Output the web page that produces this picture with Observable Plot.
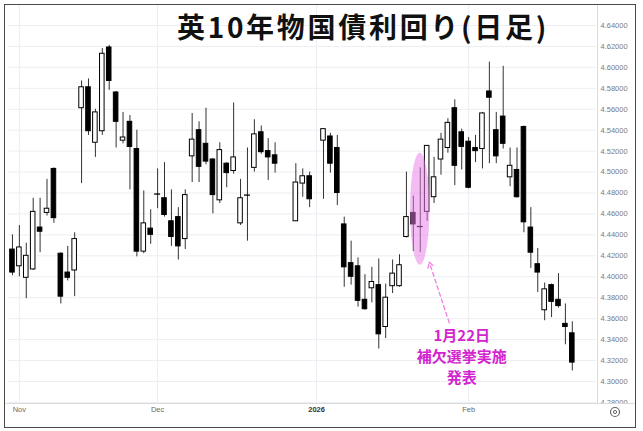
<!DOCTYPE html>
<html><head><meta charset="utf-8">
<script src="https://cdn.jsdelivr.net/npm/d3@7"></script>
<script src="https://cdn.jsdelivr.net/npm/@observablehq/plot@0.6"></script>
<style>
body{margin:0;background:#fff;}
#wrap{position:relative;width:643px;height:431px;overflow:hidden;background:#fff;}
#wrap svg{position:absolute;left:0;top:0;}
.ov{position:absolute;pointer-events:none;}
#border{left:4px;top:4px;width:632px;height:424px;border:1.5px solid #4a4a4a;box-sizing:border-box;}
#vsep{left:597px;top:5px;width:1px;height:398px;background:#dadada;}
#hsep{left:5px;top:403px;width:631px;height:1px;background:#dadada;}
#corner{left:598px;top:404px;width:37px;height:23px;background:#fff;}
#title{left:0;width:726px;top:9px;text-align:center;font:bold 28px/34px "Noto Sans CJK JP",sans-serif;color:#111;letter-spacing:2.7px;}
</style></head>
<body>
<div id="wrap">
  <div id="chart"></div>
  <div class="ov" id="title">英10年物国債利回り(日足)</div>
  <div class="ov" id="vsep"></div>
  <div class="ov" id="hsep"></div>
  <div class="ov" id="corner"><svg width="37" height="23"><circle cx="17" cy="8" r="4.5" fill="none" stroke="#666" stroke-width="1.2"/><circle cx="17" cy="8" r="1.6" fill="none" stroke="#666" stroke-width="1"/></svg></div>
  <div class="ov" id="border"></div>
</div>
<script>
// ---- data ----
const dates = ["2025-10-31","2025-11-03","2025-11-04","2025-11-05","2025-11-06","2025-11-07","2025-11-10","2025-11-11","2025-11-12","2025-11-13","2025-11-14","2025-11-17","2025-11-18","2025-11-19","2025-11-20","2025-11-21","2025-11-24","2025-11-25","2025-11-26","2025-11-27","2025-11-28","2025-12-01","2025-12-02","2025-12-03","2025-12-04","2025-12-05","2025-12-08","2025-12-09","2025-12-10","2025-12-11","2025-12-12","2025-12-15","2025-12-16","2025-12-17","2025-12-18","2025-12-19","2025-12-22","2025-12-23","2025-12-24","2025-12-29","2025-12-30","2025-12-31","2026-01-02","2026-01-05","2026-01-06","2026-01-07","2026-01-08","2026-01-09","2026-01-12","2026-01-13","2026-01-14","2026-01-15","2026-01-16","2026-01-19","2026-01-20","2026-01-21","2026-01-22","2026-01-23","2026-01-26","2026-01-27","2026-01-28","2026-01-29","2026-01-30","2026-02-02","2026-02-03","2026-02-04","2026-02-05","2026-02-06","2026-02-09","2026-02-10","2026-02-11","2026-02-12","2026-02-13","2026-02-16","2026-02-17","2026-02-18","2026-02-19","2026-02-20","2026-02-23"];
const open  = [4.426,4.410,4.399,4.407,4.447,4.461,4.503,4.422,4.404,4.406,4.561,4.581,4.528,4.539,4.619,4.576,4.530,4.548,4.522,4.424,4.446,4.479,4.475,4.453,4.457,4.436,4.515,4.540,4.527,4.512,4.473,4.508,4.501,4.451,4.478,4.504,4.538,4.520,4.516,4.453,4.489,4.496,4.530,4.534,4.523,4.450,4.413,4.410,4.378,4.389,4.392,4.352,4.391,4.391,4.438,4.461,4.448,4.462,4.476,4.512,4.523,4.561,4.538,4.529,4.523,4.522,4.577,4.540,4.553,4.495,4.502,4.543,4.447,4.412,4.368,4.392,4.378,4.355,4.346];
const high  = [4.440,4.449,4.432,4.475,4.475,4.493,4.504,4.423,4.429,4.442,4.587,4.589,4.560,4.618,4.621,4.577,4.557,4.554,4.540,4.482,4.464,4.503,4.509,4.483,4.466,4.483,4.556,4.548,4.561,4.513,4.528,4.509,4.566,4.493,4.523,4.550,4.544,4.532,4.528,4.508,4.503,4.500,4.541,4.537,4.535,4.457,4.434,4.418,4.402,4.409,4.417,4.393,4.416,4.421,4.500,4.477,4.504,4.525,4.514,4.537,4.551,4.569,4.541,4.533,4.535,4.557,4.605,4.557,4.601,4.523,4.523,4.544,4.466,4.427,4.394,4.393,4.403,4.374,4.357];
const low   = [4.401,4.400,4.379,4.406,4.423,4.458,4.451,4.374,4.396,4.381,4.489,4.535,4.514,4.535,4.578,4.523,4.527,4.483,4.419,4.422,4.431,4.465,4.457,4.429,4.416,4.426,4.490,4.490,4.507,4.460,4.470,4.485,4.498,4.449,4.434,4.500,4.517,4.492,4.499,4.453,4.476,4.466,4.474,4.499,4.468,4.390,4.392,4.371,4.368,4.375,4.331,4.341,4.384,4.390,4.437,4.424,4.423,4.453,4.470,4.497,4.518,4.487,4.502,4.484,4.509,4.503,4.508,4.508,4.522,4.486,4.475,4.442,4.408,4.385,4.358,4.361,4.370,4.335,4.310];
const close = [4.404,4.428,4.420,4.462,4.443,4.465,4.456,4.381,4.399,4.436,4.581,4.539,4.557,4.613,4.587,4.548,4.533,4.524,4.424,4.451,4.440,4.479,4.459,4.438,4.429,4.478,4.531,4.505,4.510,4.478,4.521,4.499,4.514,4.475,4.478,4.536,4.519,4.514,4.508,4.490,4.496,4.474,4.541,4.508,4.480,4.409,4.400,4.377,4.369,4.395,4.345,4.380,4.403,4.411,4.457,4.450,4.448,4.525,4.495,4.531,4.547,4.506,4.524,4.485,4.520,4.556,4.571,4.515,4.527,4.506,4.476,4.452,4.423,4.404,4.388,4.376,4.372,4.352,4.318];

const yTicks = [4.28,4.30,4.32,4.34,4.36,4.38,4.40,4.42,4.44,4.46,4.48,4.50,4.52,4.54,4.56,4.58,4.60,4.62,4.64];
const xTickDates  = ["2025-11-03","2025-12-01","2026-01-01","2026-02-02"];
const xTickLabels = ["Nov","Dec","2026","Feb"];

const noteDate = "2026-01-22";
const noteText = "1月22日\n補欠選挙実施\n発表";
const noteRange = [4.411, 4.518];      // highlighted span on Jan 22
const noteArrow = {from: [4.2, 4.356], to: [1.3, 4.414]}; // [slot offset, yield]
const noteLabel = [6.0, 4.325];

// ---- build ----
const fmt = d3.utcFormat("%Y-%m-%d");
const slots = d3.utcDay.range(new Date(Date.UTC(2025,9,31)), new Date(Date.UTC(2026,1,27)))
  .filter(d => d.getUTCDay() !== 0 && d.getUTCDay() !== 6).map(fmt);
const idx = new Map(slots.map((s, i) => [s, i]));
const candles = dates.map((d, k) => ({i: idx.get(d), o: open[k], h: high[k], l: low[k], c: close[k]}));
const bodies = candles.filter(d => d.o !== d.c);
const dojis = candles.filter(d => d.o === d.c);
const tickIdx = xTickDates.map(d => idx.get(d));
const tickLab = new Map(tickIdx.map((t, k) => [t, xTickLabels[k]]));
const ni = idx.get(noteDate);
const note = [{ni}];
const hw = 0.33;

const chart = Plot.plot({
  width: 643, height: 431,
  marginLeft: 8.5, marginRight: 47, marginTop: 5, marginBottom: 29,
  style: {fontFamily: "'Liberation Sans', sans-serif", fontSize: "7.5px", background: "transparent", color: "#777"},
  x: {type: "linear", domain: [-0.5, slots.length - 0.5], axis: null},
  y: {type: "linear", domain: [4.2799, 4.6591], axis: null},
  marks: [
    Plot.gridY(yTicks, {stroke: "#eceef3", strokeOpacity: 1}),
    Plot.gridX(tickIdx, {stroke: "#eceef3", strokeOpacity: 1}),
    Plot.ruleX(candles, {x: "i", y1: "l", y2: "h", stroke: "#333", strokeWidth: 1}),
    Plot.rect(bodies, {x1: d => d.i - hw, x2: d => d.i + hw, y1: "o", y2: "c",
      fill: d => d.c >= d.o ? "#fff" : "#000", stroke: "#000", strokeWidth: 1}),
    Plot.ruleY(dojis, {y: "o", x1: d => d.i - hw - 0.1, x2: d => d.i + hw + 0.1, stroke: "#000", strokeWidth: 1.3}),
    Plot.rect(note, {x1: d => d.ni - 1.4, x2: d => d.ni + 1.4, y1: noteRange[0], y2: noteRange[1],
      rx: 1000, ry: 1000, fill: "#e87ae8", fillOpacity: 0.5}),
    Plot.arrow(note, {x1: d => d.ni + noteArrow.from[0], y1: noteArrow.from[1],
      x2: d => d.ni + noteArrow.to[0], y2: noteArrow.to[1],
      stroke: "#ef7fe0", strokeWidth: 1.3, strokeDasharray: "4,3", headLength: 7, bend: 0}),
    Plot.text(note, {x: d => d.ni + noteLabel[0], y: noteLabel[1], text: () => noteText,
      fill: "#d424d0", fontSize: 15, fontWeight: "bold", lineHeight: 1.4,
      fontFamily: "'Noto Sans CJK JP', sans-serif", textAnchor: "middle"}),
    Plot.axisY(yTicks, {anchor: "right", tickSize: 0, tickPadding: 4, tickFormat: d3.format(".5f"),
      fill: "#7a7a7a", fontSize: 7.5, label: null}),
    Plot.axisX(tickIdx.filter(t => tickLab.get(t) !== "2026"), {anchor: "bottom", tickSize: 0, tickPadding: 4,
      tickFormat: t => tickLab.get(t), fill: "#6a6a6a", fontSize: 7.5, label: null}),
    Plot.axisX(tickIdx.filter(t => tickLab.get(t) === "2026"), {anchor: "bottom", tickSize: 0, tickPadding: 4,
      tickFormat: t => tickLab.get(t), fill: "#333", fontSize: 7.5, fontWeight: "bold", label: null})
  ]
});
document.getElementById("chart").appendChild(chart);
</script>
</body></html>
